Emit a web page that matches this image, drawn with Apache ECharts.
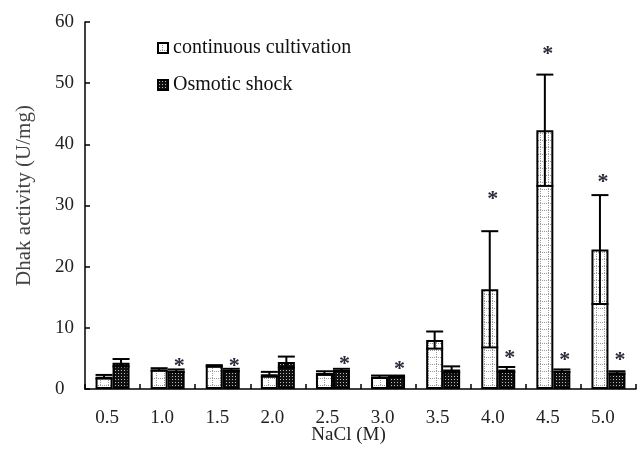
<!DOCTYPE html>
<html>
<head>
<meta charset="utf-8">
<script src="https://cdn.jsdelivr.net/npm/echarts@6/dist/echarts.min.js"></script>
<style>html,body{margin:0;padding:0;background:#fff;}#c{width:641px;height:455px;}</style>
</head>
<body>
<div id="c"></div>
<script>
var categories = ['0.5','1.0','1.5','2.0','2.5','3.0','3.5','4.0','4.5','5.0'];
var contMean = [2.0, 3.2, 3.8, 2.4, 2.6, 2.0, 8.0, 16.3, 42.3, 22.8];
var contErr  = [0.3, 0.2, 0.1, 0.4, 0.3, 0.2, 1.4, 9.5, 9.1, 8.9];
var osmMean  = [4.3, 3.0, 3.1, 4.4, 3.1, 2.1, 3.2, 3.2, 3.0, 2.7];
var osmErr   = [0.6, 0.2, 0.2, 0.9, 0.2, 0.1, 0.5, 0.4, 0.2, 0.2];
var contStars = [null, null, null, null, null, null, null, 31.7, 55.4, 34.5];
var osmStars  = [null, 4.3, 4.3, null, 4.7, 3.8, null, 5.6, 5.3, 5.3];
var yTicks = [0, 10, 20, 30, 40, 50, 60];

var BW = 17;
var SERIF = '"Liberation Serif", "DejaVu Serif", serif';

function makeContPattern() {
  var c = document.createElement('canvas');
  c.width = 8; c.height = 7;
  var g = c.getContext('2d');
  g.fillStyle = '#ffffff'; g.fillRect(0, 0, 8, 7);
  g.fillStyle = '#9a9a9a';
  for (var x = 0; x < 8; x += 2) g.fillRect(x, 0, 1, 1);
  for (var y = 2; y < 7; y += 2) g.fillRect(4, y, 1, 1);
  return c;
}
function makeOsmPattern() {
  var c = document.createElement('canvas');
  c.width = 3; c.height = 3;
  var g = c.getContext('2d');
  g.fillStyle = '#111111'; g.fillRect(0, 0, 3, 3);
  g.fillStyle = '#bdbdbd'; g.fillRect(1, 1, 1, 1);
  return c;
}

function errData(means, errs) {
  return means.map(function (m, i) { return [i, m, errs[i]]; });
}
function starData(vals) {
  var out = [];
  vals.forEach(function (v, i) { if (v != null) out.push([i, v]); });
  return out;
}
function errRender(offset) {
  return function (params, api) {
    var i = api.value(0), m = api.value(1), e = api.value(2);
    var top = api.coord([i, m + e]);
    var bot = api.coord([i, m - e]);
    var x = top[0] + offset;
    var hw = BW / 2;
    var st = { stroke: '#000', lineWidth: 2 };
    return {
      type: 'group',
      children: [
        { type: 'line', shape: { x1: x, y1: top[1], x2: x, y2: bot[1] }, style: st },
        { type: 'line', shape: { x1: x - hw, y1: top[1], x2: x + hw, y2: top[1] }, style: st },
        { type: 'line', shape: { x1: x - hw, y1: bot[1], x2: x + hw, y2: bot[1] }, style: st }
      ]
    };
  };
}
function starRender(offset) {
  return function (params, api) {
    var p = api.coord([api.value(0), api.value(1)]);
    return {
      type: 'text',
      x: p[0] + offset, y: p[1] + 4,
      style: { text: '*', fill: '#2a2a3a', font: 'bold 22px ' + SERIF, align: 'center', verticalAlign: 'middle' }
    };
  };
}

var chart = echarts.init(document.getElementById('c'), null, { renderer: 'canvas' });
chart.setOption({
  animation: false,
  backgroundColor: '#fff',
  grid: { left: 85, right: 5, top: 22, bottom: 66, containLabel: false, outerBoundsMode: 'none' },
  legend: {
    orient: 'vertical', left: 152, top: 33, itemGap: 17,
    itemWidth: 10, itemHeight: 10,
    textStyle: { fontFamily: SERIF, fontSize: 20, color: '#111' },
    data: [
      { name: 'continuous cultivation', icon: 'rect' },
      { name: 'Osmotic shock', icon: 'rect' }
    ]
  },
  xAxis: {
    type: 'category', data: categories,
    name: 'NaCl (M)', nameLocation: 'middle', nameGap: 37, nameMoveOverlap: false,
    nameTextStyle: { fontFamily: SERIF, fontSize: 19, color: '#222', padding: [0, 24, 0, 0] },
    axisLine: { lineStyle: { color: '#000', width: 1.5 } },
    axisTick: { show: true, inside: true, length: 5, lineStyle: { color: '#000', width: 1.5 } },
    axisLabel: { fontFamily: SERIF, fontSize: 19, color: '#222', margin: 20, padding: [0, 11, 0, 0] },
    splitLine: { show: false }
  },
  yAxis: {
    type: 'value', min: 0, max: 60, interval: 10,
    name: 'Dhak activity (U/mg)', nameLocation: 'middle', nameGap: 50, nameMoveOverlap: false,
    nameTextStyle: { fontFamily: SERIF, fontSize: 21, color: '#444', padding: [0, 0, 0, 20] },
    axisLine: { show: true, lineStyle: { color: '#000', width: 1.5 } },
    axisTick: { show: true, inside: true, length: 5, lineStyle: { color: '#000', width: 1.5 } },
    axisLabel: { fontFamily: SERIF, fontSize: 19, color: '#222', margin: 30, align: 'left',
      formatter: function (v) { return yTicks.indexOf(v) >= 0 ? String(v) : ''; } },
    splitLine: { show: false }
  },
  series: [
    {
      name: 'continuous cultivation', type: 'bar', barWidth: BW, barGap: '0%',
      data: contMean,
      itemStyle: { color: { image: makeContPattern(), repeat: 'repeat' }, borderColor: '#000', borderWidth: 2 },
      z: 2
    },
    {
      name: 'Osmotic shock', type: 'bar', barWidth: BW, barGap: '0%',
      data: osmMean,
      itemStyle: { color: { image: makeOsmPattern(), repeat: 'repeat' }, borderColor: '#000', borderWidth: 2 },
      z: 2
    },
    { type: 'custom', renderItem: errRender(-BW / 2), data: errData(contMean, contErr), z: 5, silent: true },
    { type: 'custom', renderItem: errRender(BW / 2), data: errData(osmMean, osmErr), z: 5, silent: true },
    { type: 'custom', renderItem: starRender(-BW / 2 + 3), data: starData(contStars), z: 6, silent: true },
    { type: 'custom', renderItem: starRender(BW / 2 + 3), data: starData(osmStars), z: 6, silent: true }
  ]
});
</script>
</body>
</html>
